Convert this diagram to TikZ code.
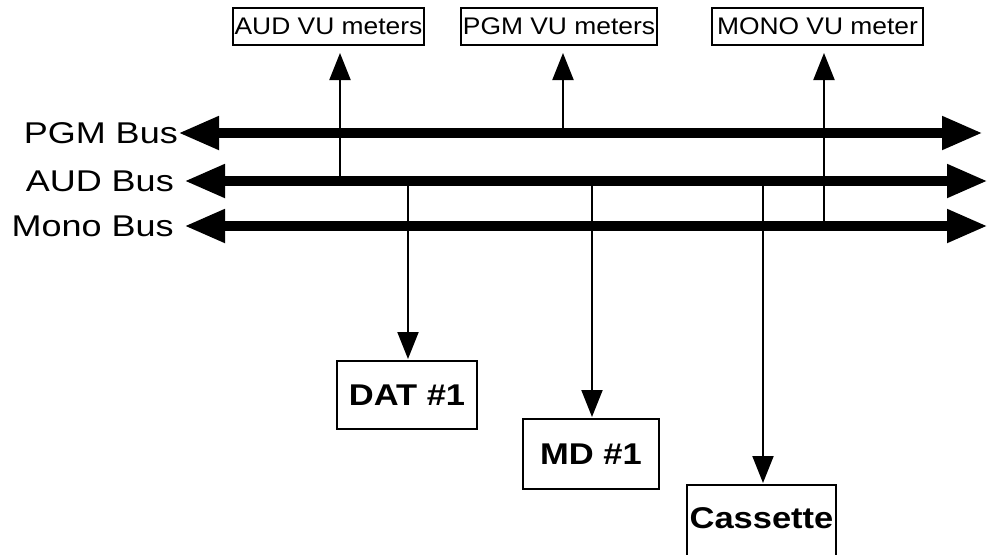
\documentclass[tikz,border=0pt]{standalone}
\usepackage{fontspec}
\setmainfont{Liberation Sans}
\newfontfamily\busfont[FakeStretch=1.2]{Liberation Sans}
\newfontfamily\meterfont[FakeStretch=1.1]{Liberation Sans}
\newfontfamily\unitfont[FakeStretch=1.15]{Liberation Sans}
\usetikzlibrary{arrows.meta,positioning}
\tikzset{
  bus/.style={line width=10.5pt,
    {Triangle[length=41pt,width=31pt]}-{Triangle[length=41pt,width=31pt]}},
  tap/.style={line width=2pt,-{Triangle[length=27pt,width=21pt]}},
  meterbox/.style={draw,line width=2pt,minimum height=37pt,inner sep=0pt,
    font=\meterfont\fontsize{24}{24}\selectfont},
  unitbox/.style={draw,line width=2pt,inner sep=0pt,
    font=\unitfont\fontsize{30}{30}\selectfont\bfseries},
  buslabel/.style={inner sep=0pt,font=\busfont\fontsize{30}{30}\selectfont}
}

\begin{document}
\begin{tikzpicture}[x=1pt,y=-1pt]
  \useasboundingbox (0,0) rectangle (987,554);

  % ---- the three buses ---------------------------------------------------
  \coordinate (pgmL)  at (178,133); \coordinate (pgmR)  at (983,133);
  \coordinate (audL)  at (184,181); \coordinate (audR)  at (988,181);
  \coordinate (monoL) at (184,226); \coordinate (monoR) at (988,226);
  \draw[bus] (pgmL)  -- (pgmR);
  \draw[bus] (audL)  -- (audR);
  \draw[bus] (monoL) -- (monoR);
  \node[buslabel,left=0pt of pgmL]   (pgmlab)  {PGM Bus};
  \node[buslabel,left=10pt of audL]  (audlab)  {AUD Bus};
  \node[buslabel,left=10pt of monoL] (monolab) {Mono Bus};

  % ---- meters on top ----------------------------------------------------
  \node[meterbox,minimum width=191pt] (audvu)  at (328.5,26.5) {AUD VU meters};
  \node[meterbox,minimum width=196pt] (pgmvu)  at (559,26.5)   {PGM VU meters};
  \node[meterbox,minimum width=211pt] (monovu) at (817.5,26.5) {MONO VU meter};

  % ---- recorders below --------------------------------------------------
  \node[unitbox,minimum width=140pt,minimum height=68pt] (dat)  at (407,395)   {DAT \#1};
  \node[unitbox,minimum width=136pt,minimum height=70pt] (md)   at (591,454)   {MD \#1};
  \node[unitbox,minimum width=149pt,minimum height=72pt] (cass) at (761.5,521)
    {\raisebox{5pt}{Cassette}};

  % ---- taps off the buses -----------------------------------------------
  \coordinate (tapaudvu)  at (340,181);
  \coordinate (tappgmvu)  at (563,133);
  \coordinate (tapmonovu) at (824,226);
  \coordinate (tapdat)    at (408,181);
  \coordinate (tapmd)     at (592,181);
  \coordinate (tapcass)   at (763,181);
  \draw[tap,shorten >=7pt] (tapaudvu)  -- (tapaudvu  |- audvu.south);
  \draw[tap,shorten >=7pt] (tappgmvu)  -- (tappgmvu  |- pgmvu.south);
  \draw[tap,shorten >=7pt] (tapmonovu) -- (tapmonovu |- monovu.south);
  \draw[tap,shorten >=1pt] (tapdat)  -- (tapdat  |- dat.north);
  \draw[tap,shorten >=1pt] (tapmd)   -- (tapmd   |- md.north);
  \draw[tap,shorten >=1pt] (tapcass) -- (tapcass |- cass.north);
\end{tikzpicture}
\end{document}
